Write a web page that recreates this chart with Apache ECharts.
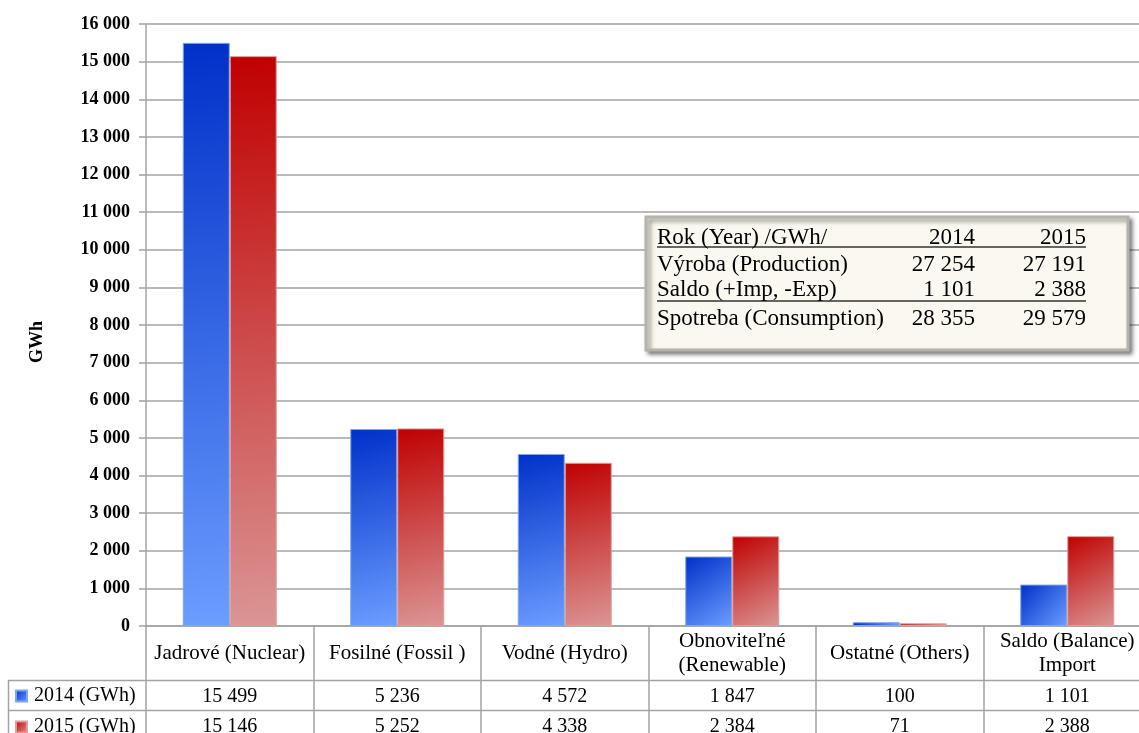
<!DOCTYPE html>
<html>
<head>
<meta charset="utf-8">
<script src="https://cdn.jsdelivr.net/npm/echarts@6/dist/echarts.min.js"></script>
<style>
  html, body { margin: 0; padding: 0; background: #fff; }
  #chart { width: 1139px; height: 733px; }
</style>
</head>
<body>
<div id="chart"></div>
<script>
// Electricity balance by source, GWh
const categories = ['Jadrové (Nuclear)', 'Fosilné (Fossil )', 'Vodné (Hydro)', 'Obnoviteľné\n(Renewable)', 'Ostatné (Others)', 'Saldo (Balance)\nImport'];
const values2014 = [15499, 5236, 4572, 1847, 100, 1101];
const values2015 = [15146, 5252, 4338, 2384, 71, 2388];
const seriesNames = ['2014 (GWh)', '2015 (GWh)'];

// Summary box
const summaryHeader = ['Rok (Year) /GWh/', '2014', '2015'];
const summaryLabels = ['Výroba (Production)', 'Saldo (+Imp, -Exp)', 'Spotreba (Consumption)'];
const summary2014 = [27254, 1101, 28355];
const summary2015 = [27191, 2388, 29579];

const SERIF = '"Liberation Serif", "DejaVu Serif", serif';
const GRID_C = '#a3a3a3';

function fmt(v) {
  return String(v).replace(/\B(?=(\d{3})+(?!\d))/g, ' ');
}

const blueFill = new echarts.graphic.LinearGradient(0, 0, 1, 1, [
  { offset: 0, color: '#0030c8' },
  { offset: 1, color: '#6c9dff' }
]);
const redFill = new echarts.graphic.LinearGradient(0, 0, 1, 1, [
  { offset: 0, color: '#c00000' },
  { offset: 1, color: '#da9695' }
]);

const chart = echarts.init(document.getElementById('chart'), null, { renderer: 'canvas' });

// summary box graphics
const boxX = 646, boxY = 217, boxW = 482, boxH = 133;
const colL = 657, col1R = 975, col2R = 1086;
const rowY = [238, 265, 290, 319];
const summaryGraphics = [
  {
    type: 'rect', shape: { x: boxX, y: boxY, width: boxW, height: boxH },
    style: { fill: '#fbf9ef', stroke: '#b4b4ac', lineWidth: 3,
      shadowBlur: 4, shadowOffsetX: 3, shadowOffsetY: 3, shadowColor: 'rgba(0,0,0,0.45)' },
    z: 10
  },
  { type: 'line', shape: { x1: colL, y1: 247, x2: col2R, y2: 247 }, style: { stroke: '#333', lineWidth: 1.5 }, z: 11 },
  { type: 'line', shape: { x1: colL, y1: 301, x2: col2R, y2: 301 }, style: { stroke: '#333', lineWidth: 1.5 }, z: 11 }
];
function sumText(text, x, y, align) {
  return { type: 'text', z: 12,
    style: { text: text, x: x, y: y, font: '23px ' + SERIF, fill: '#000', textAlign: align, textVerticalAlign: 'middle' } };
}
summaryGraphics.push(sumText(summaryHeader[0], colL, rowY[0], 'left'));
summaryGraphics.push(sumText(summaryHeader[1], col1R, rowY[0], 'right'));
summaryGraphics.push(sumText(summaryHeader[2], col2R, rowY[0], 'right'));
summaryLabels.forEach(function (lab, i) {
  summaryGraphics.push(sumText(lab, colL, rowY[i + 1], 'left'));
  summaryGraphics.push(sumText(fmt(summary2014[i]), col1R, rowY[i + 1], 'right'));
  summaryGraphics.push(sumText(fmt(summary2015[i]), col2R, rowY[i + 1], 'right'));
});

// data table rule lines below the plot
const tableGraphics = [
  { type: 'line', shape: { x1: 8, y1: 680.5, x2: 1139, y2: 680.5 }, style: { stroke: GRID_C, lineWidth: 1.5 } },
  { type: 'line', shape: { x1: 8, y1: 710.5, x2: 1139, y2: 710.5 }, style: { stroke: GRID_C, lineWidth: 1.5 } },
  { type: 'line', shape: { x1: 8.5, y1: 680, x2: 8.5, y2: 733 }, style: { stroke: GRID_C, lineWidth: 1.5 } }
];

const valueAxisLabel = function (margin) {
  return {
    interval: 0, margin: margin, verticalAlign: 'middle',
    fontFamily: SERIF, fontSize: 20, color: '#000'
  };
};

chart.setOption({
  animation: false,
  backgroundColor: '#fff',
  grid: { left: 146, top: 24, width: 1005, bottom: 107, containLabel: false, outerBoundsMode: 'none' },
  legend: {
    data: seriesNames,
    orient: 'vertical', left: 15, top: 686, height: 120, padding: 0,
    itemWidth: 11, itemHeight: 11, itemGap: 11,
    icon: 'rect',
    textStyle: { fontFamily: SERIF, fontSize: 20, color: '#000', lineHeight: 20, padding: [0, 0, 0, 2] },
    selectedMode: false
  },
  xAxis: [
    {
      type: 'category', data: categories, position: 'bottom',
      axisLine: { show: true, lineStyle: { color: GRID_C, width: 1.5 } },
      axisTick: { show: true, interval: 0, length: 110, lineStyle: { color: GRID_C, width: 1.5 } },
      axisLabel: { interval: 0, margin: 27, verticalAlign: 'middle', lineHeight: 24,
        fontFamily: SERIF, fontSize: 21, color: '#000' }
    },
    {
      type: 'category', data: values2014.map(fmt), position: 'bottom',
      axisLine: { show: false }, axisTick: { show: false }, axisLabel: valueAxisLabel(71)
    },
    {
      type: 'category', data: values2015.map(fmt), position: 'bottom',
      axisLine: { show: false }, axisTick: { show: false }, axisLabel: valueAxisLabel(101)
    }
  ],
  yAxis: {
    type: 'value', min: 0, max: 16000, interval: 1000,
    name: 'GWh', nameLocation: 'middle', nameGap: 100, nameRotate: 90,
    nameTextStyle: { fontFamily: SERIF, fontSize: 18, fontWeight: 'bold', color: '#000', padding: [0, 0, 0, -34] },
    axisLine: { show: true, lineStyle: { color: GRID_C, width: 1.5 } },
    axisTick: { show: true, length: 7, lineStyle: { color: GRID_C, width: 1.5 } },
    splitLine: { show: true, lineStyle: { color: GRID_C, width: 1.5 } },
    axisLabel: { margin: 16, fontFamily: SERIF, fontSize: 18, fontWeight: 'bold', color: '#000',
      formatter: function (v) { return fmt(v); } }
  },
  series: [
    {
      name: seriesNames[0], type: 'bar', data: values2014, xAxisIndex: 0,
      barWidth: 47, barGap: '0%',
      itemStyle: { color: blueFill, borderColor: '#7ea7ea', borderWidth: 1 }
    },
    {
      name: seriesNames[1], type: 'bar', data: values2015, xAxisIndex: 0,
      barWidth: 47, barGap: '0%',
      itemStyle: { color: redFill, borderColor: '#e49a9a', borderWidth: 1 }
    }
  ],
  graphic: tableGraphics.concat(summaryGraphics)
});
</script>
</body>
</html>
